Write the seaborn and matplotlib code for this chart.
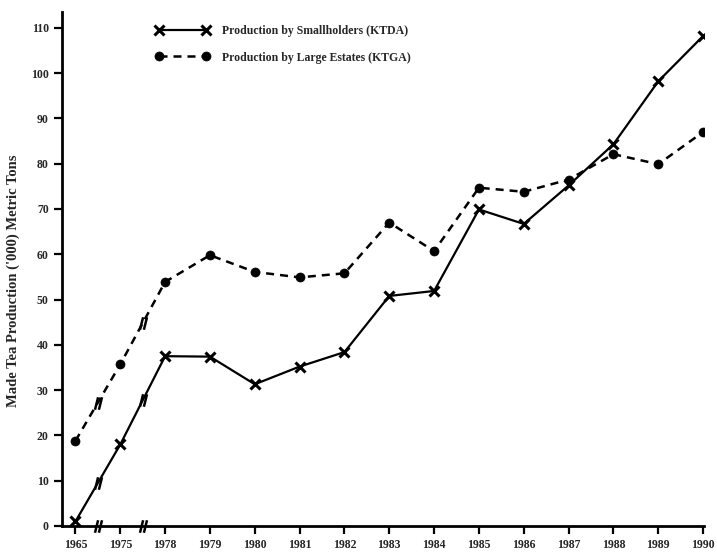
import matplotlib
matplotlib.use("Agg")
import matplotlib.pyplot as plt
import numpy as np
import pandas as pd
import seaborn as sns
from matplotlib.path import Path

years = ["1965", "1975", "1978", "1979", "1980", "1981", "1982", "1983",
         "1984", "1985", "1986", "1987", "1988", "1989", "1990"]
smallholders = [1.0, 18.0, 37.5, 37.4, 31.3, 35.2, 38.4, 50.8,
                51.9, 69.9, 66.7, 75.2, 84.3, 98.2, 108.2]
estates = [18.8, 35.7, 53.9, 59.8, 56.1, 54.9, 55.8, 67.0,
           60.7, 74.7, 73.8, 76.5, 82.1, 79.9, 87.0]
label_small = "Production by Smallholders (KTDA)"
label_estates = "Production by Large Estates (KTGA)"
y_ticks = list(range(0, 111, 10))

sns.set_style("ticks")
plt.rcParams['font.family'] = ['Liberation Serif', 'DejaVu Serif']
plt.rcParams['font.weight'] = 'bold'

df = pd.DataFrame({"pos": np.arange(len(years)), "year": years,
                   "small": smallholders, "estates": estates})

fig = plt.figure(figsize=(7.17, 5.52), dpi=100)
ax = fig.add_axes([62 / 717, 26 / 552, 642 / 717, 514 / 552])

sns.lineplot(data=df, x="pos", y="small", ax=ax, color="black", lw=1.6,
             marker="x", markersize=6.5, markeredgewidth=2.2,
             markeredgecolor="black", label=label_small)
sns.lineplot(data=df, x="pos", y="estates", ax=ax, color="black", lw=1.8,
             linestyle=(0, (3.2, 2.4)), marker="o", markersize=6.5,
             markeredgecolor="black", markeredgewidth=0.5, label=label_estates)

# axis break marks ("//") on the lines and the x-axis between the first years
brk = Path([(-0.9, -1.6), (-0.1, 1.6), (0.1, -1.6), (0.9, 1.6)],
           [Path.MOVETO, Path.LINETO, Path.MOVETO, Path.LINETO])
for i in (0, 1):
    mx = df.pos[i] + 0.5
    for col in ("small", "estates"):
        my = (df[col][i] + df[col][i + 1]) / 2
        ax.plot(mx, my, marker=brk, markersize=9, color="black",
                markeredgewidth=1.8, linestyle="none")
    ax.plot(mx, 0, marker=brk, markersize=9, color="black",
            markeredgewidth=1.8, linestyle="none", clip_on=False, zorder=5)

ax.set_xlim(-0.3, 14.02)
ax.set_ylim(0, 113.5)
ax.set_xticks(df.pos)
ax.set_xticklabels(years)
ax.set_yticks(y_ticks)
ax.tick_params(axis="both", labelsize=8.5, width=1.6, length=6, color="black")
for lab in ax.get_xticklabels() + ax.get_yticklabels():
    lab.set_fontweight("bold")
ax.set_xlabel("")
ax.set_ylabel("Made Tea Production ('000) Metric Tons", fontsize=10.5,
              fontweight="bold")
ax.yaxis.set_label_coords(-0.066, 0.477)
sns.despine(ax=ax)
for s in ("left", "bottom"):
    ax.spines[s].set_linewidth(2)
    ax.spines[s].set_color("black")

ax.legend(loc="upper left", bbox_to_anchor=(0.145, 0.975), frameon=False,
          numpoints=2, handlelength=4.6, labelspacing=1.25, borderpad=0,
          borderaxespad=0, handletextpad=1.1,
          prop={"size": 8.5, "weight": "bold"})

fig.savefig("out.png", dpi=100)
